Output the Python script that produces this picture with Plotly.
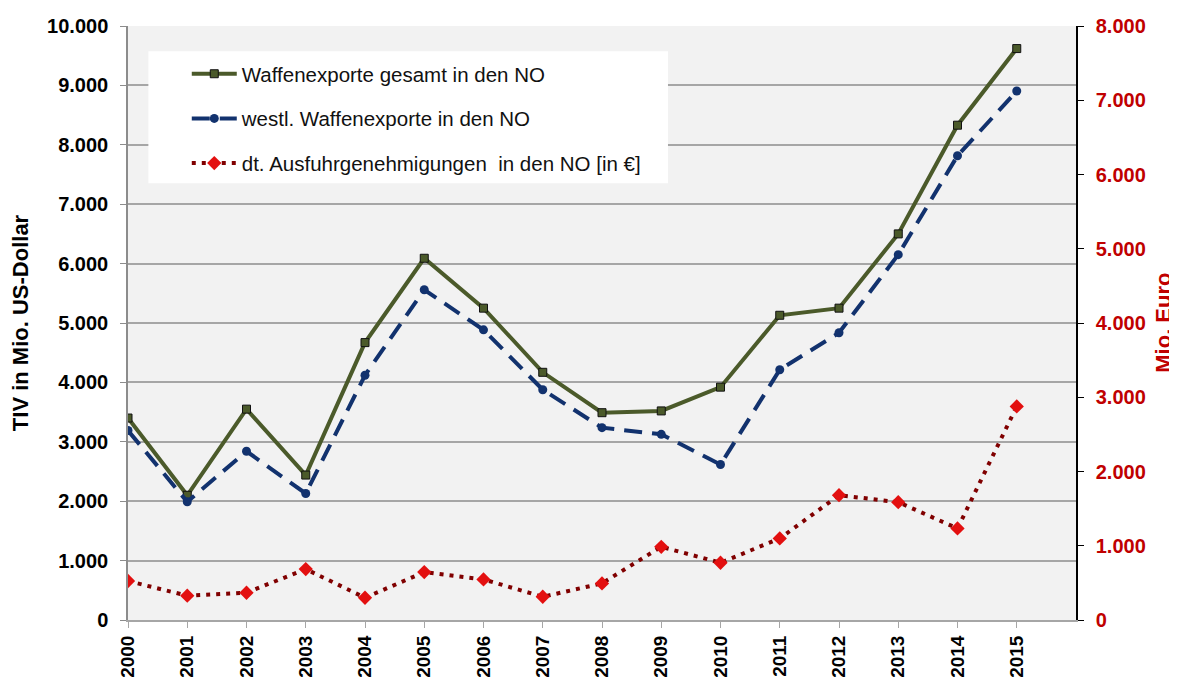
import plotly.graph_objects as go

years = list(range(2000, 2016))
year_labels = [str(y) for y in years]
total_exports = [3400, 2100, 3550, 2440, 4670, 6090, 5250, 4170, 3490, 3520, 3920, 5130, 5250, 6500, 8330, 9620]
western_exports = [3190, 1990, 2840, 2130, 4120, 5560, 4885, 3877, 3238, 3126, 2617, 4213, 4835, 6151, 7815, 8905]
german_licences = [525, 327, 367, 686, 300, 645, 547, 313, 493, 986, 771, 1098, 1681, 1587, 1233, 2877]

names = ["Waffenexporte gesamt in den NO",
         "westl. Waffenexporte in den NO",
         "dt. Ausfuhrgenehmigungen  in den NO [in €]"]
right_title = "Mio. Euro"

FONT = "Liberation Sans, Arial, sans-serif"
DARKRED = "#C00000"

fig = go.Figure()
fig.add_trace(go.Scatter(
    x=years, y=total_exports, name=names[0], legendgroup="a",
    mode="lines+markers",
    line=dict(color="#4B5A2A", width=4),
    marker=dict(symbol="square", size=8, color="#4B5A2A", line=dict(color="#111111", width=1)),
))
fig.add_trace(go.Scatter(
    x=years, y=western_exports, name=names[1], legendgroup="b",
    mode="lines+markers",
    line=dict(color="#12326E", width=4, dash="18px,10px"),
    marker=dict(symbol="circle", size=9, color="#12326E"),
))
fig.add_trace(go.Scatter(
    x=years, y=german_licences, name=names[2], legendgroup="c",
    mode="lines+markers", yaxis="y2",
    line=dict(color="#800000", width=4, dash="4px,6px"),
    marker=dict(symbol="diamond", size=11, color="#E31010"),
))

# the page adds an 8px body margin, so the figure is sized to fit inside the window
fig.update_layout(
    width=1169, height=669,
    margin=dict(l=120, r=101, t=18, b=57, autoexpand=False),
    paper_bgcolor="white",
    plot_bgcolor="#F2F2F2",
    separators=",.",
    font=dict(family=FONT, color="black"),
    showlegend=True,
    legend=dict(
        x=0.062, y=0.953, xanchor="left", yanchor="top",
        bgcolor="rgba(0,0,0,0)", borderwidth=0,
        font=dict(family=FONT, size=20.5, color="#111111"),
        traceorder="grouped", tracegroupgap=15, itemwidth=45,
    ),
    xaxis=dict(
        range=[2000, 2016], tickmode="array", tickvals=years, ticktext=year_labels,
        tickangle=-90, tickfont=dict(family=FONT, size=19, weight="bold"),
        showgrid=False, zeroline=False, automargin=False,
        showline=True, linecolor="#A6A6A6", linewidth=2,
        ticks="outside", ticklen=6, tickcolor="#A6A6A6", tickwidth=1,
        ticklabelstandoff=0,
    ),
    yaxis=dict(
        range=[0, 10000], dtick=1000, tickformat=",.0f", automargin=False,
        tickfont=dict(family=FONT, size=20, weight="bold"),
        showgrid=True, gridcolor="#A6A6A6", gridwidth=1.5, zeroline=False,
        showline=True, linecolor="#8C8C8C", linewidth=1.5,
        ticks="outside", ticklen=6, tickcolor="#8C8C8C",
        ticklabelstandoff=8,
        title=dict(text="TIV in Mio. US-Dollar", standoff=22,
                   font=dict(family=FONT, size=22, weight="bold", color="black")),
    ),
    yaxis2=dict(
        range=[0, 8000], dtick=1000, tickformat=",.0f", overlaying="y", side="right",
        automargin=False,
        tickfont=dict(family=FONT, size=20, weight="bold", color=DARKRED),
        showgrid=False, zeroline=False,
        showline=True, linecolor="black", linewidth=1.5,
        ticks="outside", ticklen=6, tickcolor="black",
        ticklabelstandoff=8,
    ),
    annotations=[dict(
        text=right_title, xref="paper", yref="paper", x=1.0915, y=0.5,
        xanchor="center", yanchor="middle", textangle=-90, showarrow=False,
        font=dict(family=FONT, size=22, weight="bold", color=DARKRED),
    )],
    shapes=[dict(
        type="rect", xref="paper", yref="paper", layer="above",
        x0=0.0215, x1=0.5696, y0=0.7353, y1=0.9574,
        fillcolor="white", line=dict(width=0),
    )],
)

fig.write_html("out.html")
